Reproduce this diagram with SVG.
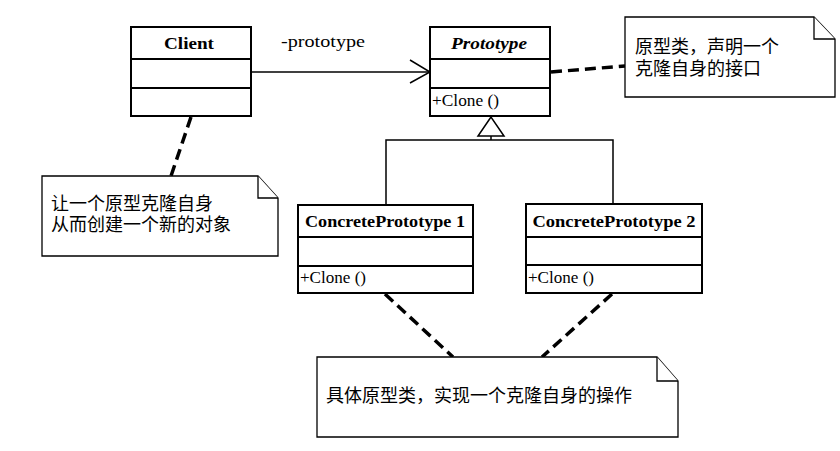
<svg xmlns="http://www.w3.org/2000/svg" width="840" height="451" viewBox="0 0 840 451">
<style>
.box{fill:#fff;stroke:#000;stroke-width:2}
.ln{stroke:#000;stroke-width:2;fill:none}
.con{stroke:#000;stroke-width:1.5;fill:none}
.dash{stroke:#000;stroke-width:3.5;fill:none;stroke-dasharray:11 6}
.note{fill:#fff;stroke:#000;stroke-width:1.3}
.name{font-family:"Liberation Serif",serif;font-size:17px;font-weight:bold;text-anchor:middle}
.op{font-family:"Liberation Serif",serif;font-size:16px}
.lbl{font-family:"Liberation Serif",serif;font-size:16px}
.cjk{font-family:"Liberation Sans","Noto Sans CJK SC",sans-serif;font-size:18px}
</style>
<rect width="840" height="451" fill="#fff"/>
<g id="connectors">
  <line class="con" x1="251" y1="72" x2="430" y2="72"/>
  <polyline class="con" points="410,60 430,72 410,83"/>
  <text class="lbl" x="281" y="47" textLength="84" lengthAdjust="spacingAndGlyphs">-prototype</text>
  <polygon class="con" points="491,117 478,136 504,136" fill="#fff"/>
  <polyline class="con" points="491,136 491,140"/>
  <polyline class="con" points="386,205 386,140 613,140 613,204"/>
  <line class="dash" x1="551" y1="72" x2="625" y2="66"/>
  <line class="dash" x1="191" y1="117" x2="171" y2="176"/>
  <line class="dash" x1="385" y1="294" x2="453" y2="357"/>
  <line class="dash" x1="612" y1="294" x2="542" y2="357"/>
</g>
<g id="client">
  <rect class="box" x="131" y="27" width="120" height="89"/>
  <line class="ln" x1="131" y1="59" x2="251" y2="59"/>
  <line class="ln" x1="131" y1="88" x2="251" y2="88"/>
  <text class="name" x="189" y="49" textLength="50" lengthAdjust="spacingAndGlyphs">Client</text>
</g>
<g id="prototype">
  <rect class="box" x="430" y="27" width="120" height="89"/>
  <line class="ln" x1="430" y1="59" x2="550" y2="59"/>
  <line class="ln" x1="430" y1="88" x2="550" y2="88"/>
  <text class="name" x="489" y="49" font-style="italic" textLength="76" lengthAdjust="spacingAndGlyphs">Prototype</text>
  <text class="op" x="432" y="106" textLength="67" lengthAdjust="spacingAndGlyphs">+Clone ()</text>
</g>
<g id="concrete1">
  <rect class="box" x="298" y="205" width="175" height="88"/>
  <line class="ln" x1="298" y1="237" x2="473" y2="237"/>
  <line class="ln" x1="298" y1="266" x2="473" y2="266"/>
  <text class="name" x="385" y="227" textLength="160" lengthAdjust="spacingAndGlyphs">ConcretePrototype  1</text>
  <text class="op" x="300" y="283" textLength="66" lengthAdjust="spacingAndGlyphs">+Clone ()</text>
</g>
<g id="concrete2">
  <rect class="box" x="526" y="204" width="176" height="89"/>
  <line class="ln" x1="526" y1="237" x2="702" y2="237"/>
  <line class="ln" x1="526" y1="265" x2="702" y2="265"/>
  <text class="name" x="614" y="227" textLength="163" lengthAdjust="spacingAndGlyphs">ConcretePrototype  2</text>
  <text class="op" x="528" y="283" textLength="66" lengthAdjust="spacingAndGlyphs">+Clone ()</text>
</g>
<g id="note-prototype">
  <path class="note" d="M625,17 H814 L835,39 V97 H625 Z"/>
  <polyline class="note" points="814,17 814,39 835,39" fill="none"/>
  <text class="cjk" x="635" y="53">原型类，声明一个</text>
  <text class="cjk" x="635" y="75">克隆自身的接口</text>
</g>
<g id="note-client">
  <path class="note" d="M42,176 H258 L278,198 V256 H42 Z"/>
  <polyline class="note" points="258,176 258,198 278,198" fill="none"/>
  <text class="cjk" x="51" y="210">让一个原型克隆自身</text>
  <text class="cjk" x="51" y="231">从而创建一个新的对象</text>
</g>
<g id="note-concrete">
  <path class="note" d="M317,357 H657 L678,381 V437 H317 Z"/>
  <polyline class="note" points="657,357 657,381 678,381" fill="none"/>
  <text class="cjk" x="326" y="402">具体原型类，实现一个克隆自身的操作</text>
</g>
</svg>
